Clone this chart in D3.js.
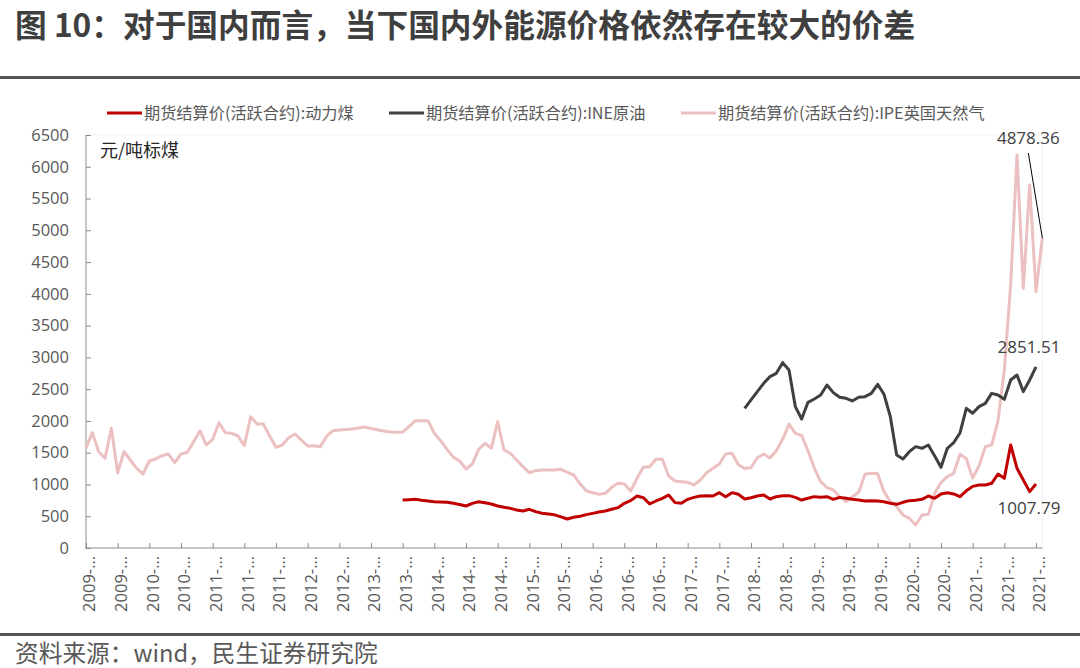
<!DOCTYPE html>
<html>
<head>
<meta charset="utf-8">
<script src="https://cdn.jsdelivr.net/npm/d3@7"></script>
<style>
	body { margin: 0; background: #fff; }
	text { font-family: "Open Sans", "Noto Sans CJK SC", sans-serif; }
	.cn { font-family: "Noto Sans CJK SC", sans-serif; }
</style>
</head>
<body>
<svg id="chart1" width="1080" height="668"></svg>
<script>
// x axis: one label every 5 periods, text is cut to "YYYY-…"
var tickYears = ["2009","2009","2010","2010","2011","2011","2011","2012","2012","2013","2013",
	"2014","2014","2014","2015","2015","2016","2016","2016","2017","2017","2018","2018",
	"2019","2019","2019","2020","2020","2021","2021","2021"];

// IPE英国天然气, from period 0
var gas = [1569,1815,1516,1412,1884,1185,1516,1385,1254,1165,1369,1401,1453,1480,1343,1480,
	1506,1673,1842,1621,1711,1972,1815,1805,1763,1610,2067,1952,1952,1763,1585,1621,1736,1794,
	1700,1605,1610,1594,1760,1847,1857,1865,1873,1889,1905,1880,1860,1842,1825,1821,1825,1910,
	2004,2004,2004,1805,1689,1553,1430,1369,1243,1322,1553,1648,1569,1988,1542,1490,1385,1280,
	1185,1217,1228,1228,1228,1238,1190,1149,1010,900,870,845,860,955,1018,1007,897,1097,1270,
	1280,1396,1396,1133,1055,1044,1034,992,1070,1186,1254,1322,1480,1490,1310,1254,1264,1420,
	1478,1416,1530,1710,1950,1805,1770,1530,1254,1044,950,913,808,729,808,876,1160,1175,1170,
	887,729,651,519,467,362,519,530,860,1030,1123,1175,1475,1405,1100,1290,1595,1621,2000,2802,
	4150,6186,4087,5714,4035,4878.36];

// 动力煤, from period 50
var coalFrom = 50;
var coal = [755,760,766,750,740,729,724,719,703,685,661,703,729,713,693,661,640,624,598,582,
	609,572,546,535,522,490,456,483,500,525,545,567,582,609,635,703,745,818,792,693,740,782,834,
	714,703,766,797,818,824,818,871,808,871,845,771,792,818,834,771,808,824,824,797,755,782,808,
	797,808,766,797,782,766,755,740,745,740,729,703,687,719,745,750,766,818,782,850,871,850,808,
	900,970,992,992,1018,1165,1097,1621,1254,1070,887,1007.79];

// INE原油, from period 104
var crudeFrom = 104;
var crude = [2198,2330,2461,2592,2697,2749,2917,2802,2225,2030,2293,2345,2408,2566,2445,2372,
	2356,2314,2372,2382,2434,2576,2419,2067,1464,1401,1516,1595,1569,1621,1448,1270,1569,1658,
	1810,2198,2120,2225,2277,2434,2408,2340,2644,2723,2461,2644,2851.51];

var seriesNames = ["期货结算价(活跃合约):动力煤", "期货结算价(活跃合约):INE原油", "期货结算价(活跃合约):IPE英国天然气"];
var seriesColors = ["#c00000", "#404040", "#ecc0c0"];

draw_chart();

function draw_chart() {
	var svg = d3.select('#chart1');
	svg.selectAll("*").remove();

	var left = 86, right = 1036, top = 135, bottom = 548;

	var x = d3.scaleLinear().domain([0, 150]).range([left, right]);
	var y = d3.scaleLinear().domain([0, 6500]).range([bottom, top]);

	// title + rules
	svg.append("text")
		.attr("class", "cn")
		.attr("x", 15).attr("y", 37)
		.attr("font-size", "31.7px").attr("font-weight", "bold")
		.attr("fill", "#3f3f3f")
		.text("图 10：对于国内而言，当下国内外能源价格依然存在较大的价差");

	svg.append("rect").attr("x", 0).attr("y", 76).attr("width", 1080).attr("height", 3).attr("fill", "#555");
	svg.append("rect").attr("x", 0).attr("y", 633).attr("width", 1080).attr("height", 3).attr("fill", "#555");

	svg.append("text")
		.attr("class", "cn")
		.attr("x", 15).attr("y", 662)
		.attr("font-size", "23.7px")
		.attr("fill", "#595959")
		.text("资料来源：wind，民生证券研究院");

	// faint plot frame
	svg.append("path")
		.attr("d", "M" + left + "," + top + "H" + x(151) + "V" + bottom)
		.attr("fill", "none").attr("stroke", "#f0f0f0");

	// legend
	var legX = [107, 389, 681];
	var leg = svg.selectAll(".leg").data(seriesNames).enter().append("g")
		.attr("class", "leg")
		.attr("transform", function (d, i) { return "translate(" + legX[i] + ",113)"; });
	leg.append("line").attr("x1", 0).attr("x2", 35).attr("y1", 0).attr("y2", 0)
		.attr("stroke", function (d, i) { return seriesColors[i]; })
		.attr("stroke-width", 3);
	leg.append("text").attr("class", "cn")
		.attr("x", 37).attr("y", 0).attr("dy", "0.35em")
		.attr("font-size", "16.2px").attr("fill", "#595959")
		.text(function (d) { return d; });

	// y axis
	var yAxis = svg.append("g")
		.attr("transform", "translate(" + left + ",0)")
		.call(d3.axisLeft(y).tickValues(d3.range(0, 6501, 500)).tickFormat(d3.format("d"))
			.tickSize(-5).tickPadding(17).tickSizeOuter(0));
	yAxis.select(".domain").remove();
	yAxis.selectAll(".tick line").attr("stroke", "#8c8c8c");
	yAxis.selectAll(".tick text").attr("font-size", "16.5px").attr("fill", "#595959")
		.attr("font-family", "Open Sans");
	svg.append("line").attr("x1", left).attr("x2", left).attr("y1", top).attr("y2", bottom)
		.attr("stroke", "#8c8c8c");

	svg.append("text")
		.attr("class", "cn")
		.attr("x", 100).attr("y", 157)
		.attr("font-size", "18px").attr("fill", "#262626")
		.text("元/吨标煤");

	// x axis
	var xAxis = svg.append("g")
		.attr("transform", "translate(0," + bottom + ")")
		.call(d3.axisBottom(x).tickValues(d3.range(0, 151, 5)).tickSize(-5).tickSizeOuter(0)
			.tickFormat(function (d) { return tickYears[d / 5] + "-…"; }));
	xAxis.select(".domain").remove();
	xAxis.selectAll(".tick line").attr("stroke", "#8c8c8c");
	xAxis.selectAll(".tick text")
		.attr("font-size", "16.5px").attr("fill", "#595959")
		.attr("font-family", "Open Sans")
		.attr("text-anchor", "end")
		.attr("x", 0).attr("y", 0).attr("dy", "0.35em")
		.attr("transform", "translate(3,8) rotate(-90)");
	svg.append("line").attr("x1", left - 1).attr("x2", x(151)).attr("y1", bottom).attr("y2", bottom)
		.attr("stroke", "#8c8c8c");

	// lines
	var line = d3.line()
		.x(function (d) { return x(d.i); })
		.y(function (d) { return y(d.v); });

	function toPts(arr, from) {
		return arr.map(function (v, k) { return { i: from + k, v: v }; });
	}

	var series = [toPts(gas, 0), toPts(crude, crudeFrom), toPts(coal, coalFrom)];
	var colors = [seriesColors[2], seriesColors[1], seriesColors[0]];

	svg.selectAll(".series").data(series).enter().append("path")
		.attr("class", "series")
		.attr("d", line)
		.attr("fill", "none")
		.attr("stroke", function (d, i) { return colors[i]; })
		.attr("stroke-width", 3)
		.attr("stroke-linejoin", "round");

	// end labels
	var gasEnd = series[0][series[0].length - 1];
	var crudeEnd = series[1][series[1].length - 1];
	var coalEnd = series[2][series[2].length - 1];

	svg.append("line")
		.attr("x1", x(gasEnd.i) - 14).attr("y1", y(6500) + 18)
		.attr("x2", x(gasEnd.i)).attr("y2", y(gasEnd.v))
		.attr("stroke", "#000").attr("stroke-width", 1);

	var labels = [
		{ x: x(gasEnd.i) - 14, y: y(6500) + 9, t: d3.format(".2f")(gasEnd.v) },
		{ x: x(crudeEnd.i) - 7, y: y(crudeEnd.v) - 14, t: d3.format(".2f")(crudeEnd.v) },
		{ x: x(coalEnd.i) - 7, y: y(coalEnd.v) + 30, t: d3.format(".2f")(coalEnd.v) }
	];
	svg.selectAll(".endlab").data(labels).enter().append("text")
		.attr("class", "endlab")
		.attr("x", function (d) { return d.x; })
		.attr("y", function (d) { return d.y; })
		.attr("text-anchor", "middle")
		.attr("font-size", "17px").attr("fill", "#404040")
		.text(function (d) { return d.t; });
}
</script>
</body>
</html>
